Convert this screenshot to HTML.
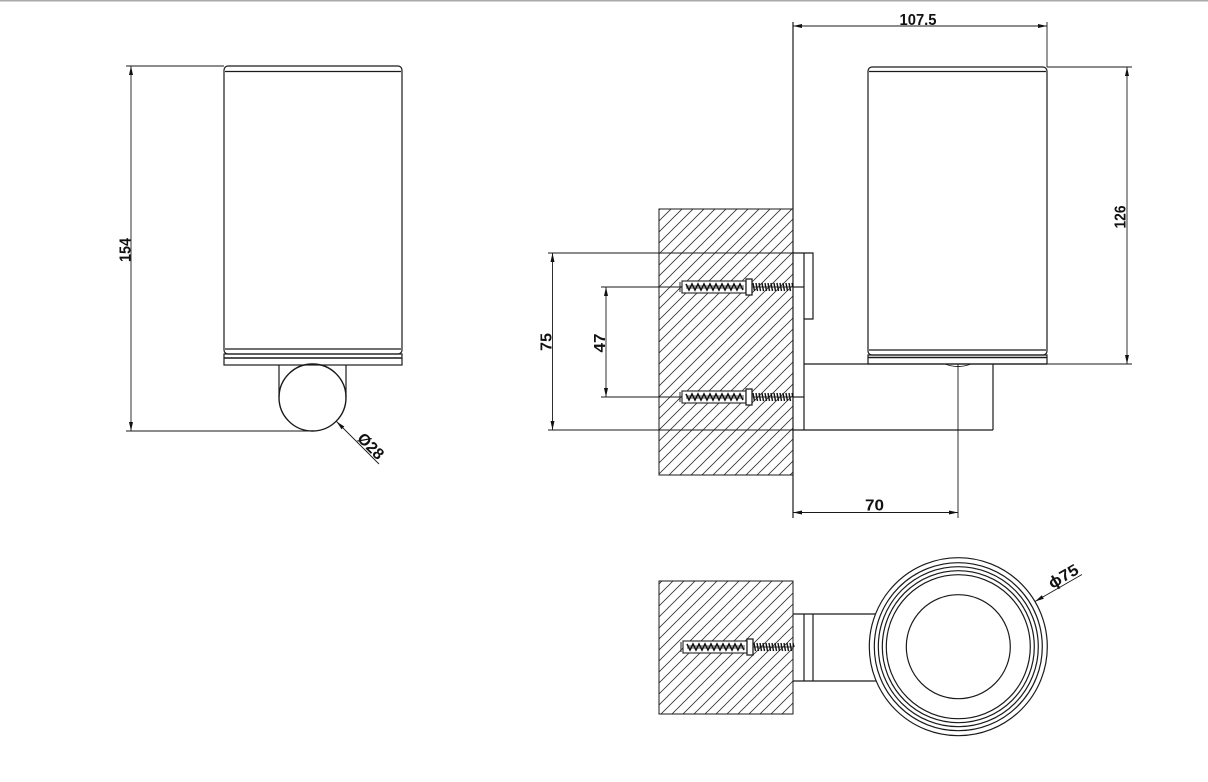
<!DOCTYPE html>
<html>
<head>
<meta charset="utf-8">
<style>
  html, body { margin: 0; padding: 0; background: #fff; }
  svg { display: block; }
  text { font-family: "Liberation Sans", "DejaVu Sans", sans-serif; font-weight: bold; font-size: 16px; fill: #111; }
</style>
</head>
<body>
<svg width="1208" height="782" viewBox="0 0 1208 782" xmlns="http://www.w3.org/2000/svg">
  <defs>
    <pattern id="h" patternUnits="userSpaceOnUse" width="11" height="11">
      <path d="M0,11L11,0M-2,2L2,-2M9,13L13,9" stroke="#333" stroke-width="0.8" fill="none"/>
    </pattern>
    <g id="screw">
      <rect x="0" y="-6" width="64" height="12" fill="#fff" stroke="#222" stroke-width="1.1"/>
      <path d="M-2,-5 L-2,5" stroke="#222" stroke-width="1"/>
      <polyline points="4,-3 7,3 10,-3 13,3 16,-3 19,3 22,-3 25,3 28,-3 31,3 34,-3 37,3 40,-3 43,3 46,-3 49,3 52,-3 55,3 58,-3 61,3" fill="none" stroke="#111" stroke-width="1.6"/>
      <path d="M4,-1 L62,-1 M4,1 L62,1" stroke="#222" stroke-width="0.8"/>
      <rect x="64" y="-8" width="6" height="16" fill="#fff" stroke="#222" stroke-width="1.3"/>
      <path d="M70,0 L111,0" stroke="#333" stroke-width="1"/>
      <path d="M71,-4L72.5,4 M74,-4L75.5,4 M77,-4L78.5,4 M80,-4L81.5,4 M83,-4L84.5,4 M86,-4L87.5,4 M89,-4L90.5,4 M92,-4L93.5,4 M95,-4L96.5,4 M98,-4L99.5,4 M101,-4L102.5,4 M104,-4L105.5,4 M107,-4L108.5,4 M110,-4L111,0" stroke="#111" stroke-width="1.4" fill="none"/>
    </g>
  </defs>

  <!-- top border -->
  <rect x="0" y="0" width="1208" height="1.5" fill="#aaa"/>

  <g fill="none" stroke="#1a1a1a" stroke-width="1.2">
    <!-- ============ LEFT VIEW ============ -->
    <rect x="224" y="66" width="178" height="288" rx="4"/>
    <line x1="225" y1="71.5" x2="401" y2="71.5"/>
    <line x1="225" y1="349" x2="401" y2="349"/>
    <rect x="224" y="354" width="178" height="11"/>
    <line x1="224" y1="358" x2="402" y2="358" stroke-width="1.6"/>
    <line x1="279" y1="365" x2="279" y2="397"/>
    <line x1="346" y1="365" x2="346" y2="397"/>
    <circle cx="312.5" cy="397.5" r="33.5" stroke-width="1.4"/>

    <!-- 154 dim -->
    <g stroke-width="0.9">
      <line x1="131" y1="66" x2="131" y2="431"/>
      <line x1="126" y1="66" x2="224" y2="66"/>
      <line x1="126" y1="431" x2="313" y2="431"/>
      <line x1="336.5" y1="421.5" x2="379" y2="464"/>
    </g>

    <!-- ============ MIDDLE VIEW ============ -->
    <rect x="659" y="209" width="134" height="266" fill="url(#h)" stroke-width="1"/>
    <line x1="793" y1="22" x2="793" y2="518"/>

    <!-- plate & arm -->
    <line x1="804" y1="253" x2="804" y2="430"/>
    <polyline points="793,253 813,253 813,319 804,319"/>
    <line x1="793" y1="287" x2="804" y2="287"/>
    <line x1="793" y1="397" x2="804" y2="397"/>
    <line x1="804" y1="364" x2="1047" y2="364"/>
    <line x1="793" y1="430" x2="993" y2="430"/>
    <line x1="993" y1="364" x2="993" y2="430"/>
    <path d="M945,364 Q958,369 971,364" stroke-width="0.9"/>
    <line x1="958" y1="364" x2="958" y2="518" stroke-width="0.9"/>

    <!-- right cup -->
    <rect x="868" y="67" width="179" height="288" rx="4"/>
    <line x1="869" y1="71.5" x2="1046" y2="71.5"/>
    <line x1="869" y1="350" x2="1046" y2="350"/>
    <rect x="868" y="355" width="179" height="9"/>
    <line x1="868" y1="357.5" x2="1047" y2="357.5" stroke-width="1.4"/>

    <!-- dims middle -->
    <g stroke-width="0.9">
      <line x1="552.5" y1="253" x2="552.5" y2="430"/>
      <line x1="548" y1="253" x2="793" y2="253"/>
      <line x1="548" y1="430" x2="793" y2="430"/>
      <line x1="606" y1="287" x2="606" y2="397"/>
      <line x1="601" y1="287" x2="682" y2="287"/>
      <line x1="601" y1="397" x2="682" y2="397"/>
      <line x1="793" y1="26" x2="1047" y2="26"/>
      <line x1="1047" y1="22" x2="1047" y2="67"/>
      <line x1="1127" y1="67" x2="1127" y2="364"/>
      <line x1="1047" y1="67" x2="1132" y2="67"/>
      <line x1="1047" y1="364" x2="1132" y2="364"/>
      <line x1="793" y1="512.5" x2="958" y2="512.5"/>
    </g>

    <!-- ============ TOP VIEW ============ -->
    <rect x="659" y="581" width="134" height="133" fill="url(#h)" stroke-width="1"/>
    <line x1="793" y1="614" x2="876" y2="614"/>
    <line x1="793" y1="681" x2="876" y2="681"/>
    <line x1="804" y1="614" x2="804" y2="681"/>
    <line x1="813" y1="614" x2="813" y2="681"/>
    <circle cx="958.3" cy="646.7" r="89" fill="#fff"/>
    <circle cx="958.3" cy="646.7" r="84"/>
    <circle cx="958.3" cy="646.7" r="80"/>
    <circle cx="958.3" cy="646.7" r="76"/>
    <circle cx="958.3" cy="646.7" r="72"/>
    <circle cx="958.3" cy="646.7" r="52"/>
    <line x1="1035" y1="601.5" x2="1082" y2="574.5" stroke-width="0.9"/>
  </g>

  <!-- screws -->
  <use href="#screw" transform="translate(682,287)"/>
  <use href="#screw" transform="translate(682,397)"/>
  <use href="#screw" transform="translate(683,647)"/>

  <!-- arrowheads -->
  <g fill="#111">
    <polygon points="131,66 129,75 133,75"/>
    <polygon points="131,431 129,422 133,422"/>
    <polygon points="552.5,253 550.5,262 554.5,262"/>
    <polygon points="552.5,430 550.5,421 554.5,421"/>
    <polygon points="606,287 604,296 608,296"/>
    <polygon points="606,397 604,388 608,388"/>
    <polygon points="1127,67 1125,76 1129,76"/>
    <polygon points="1127,364 1125,355 1129,355"/>
    <polygon points="793,26 802,24 802,28"/>
    <polygon points="1047,26 1038,24 1038,28"/>
    <polygon points="793,512.5 802,510.5 802,514.5"/>
    <polygon points="958,512.5 949,510.5 949,514.5"/>
    <polygon points="336.5,421.5 344.3,426.5 341.5,429.3"/>
    <polygon points="1035,601.5 1043.8,598.7 1041.8,595.3"/>
  </g>

  <!-- labels -->
  <text transform="translate(130.5,250) rotate(-90)" text-anchor="middle" textLength="24" lengthAdjust="spacingAndGlyphs">154</text>
  <text transform="translate(551.5,342) rotate(-90)" text-anchor="middle" textLength="18" lengthAdjust="spacingAndGlyphs">75</text>
  <text transform="translate(605,343) rotate(-90)" text-anchor="middle" textLength="19" lengthAdjust="spacingAndGlyphs">47</text>
  <text transform="translate(1125.5,217) rotate(-90)" text-anchor="middle" textLength="23" lengthAdjust="spacingAndGlyphs">126</text>
  <text x="918" y="25" text-anchor="middle" textLength="37" lengthAdjust="spacingAndGlyphs">107.5</text>
  <text x="874.5" y="510.5" text-anchor="middle" textLength="19" lengthAdjust="spacingAndGlyphs">70</text>
  <text transform="translate(367,450) rotate(45)" text-anchor="middle" textLength="30" lengthAdjust="spacingAndGlyphs">Ø28</text>
  <text transform="translate(1066,581) rotate(-30)" text-anchor="middle" textLength="32" lengthAdjust="spacingAndGlyphs">ϕ75</text>
</svg>
</body>
</html>
